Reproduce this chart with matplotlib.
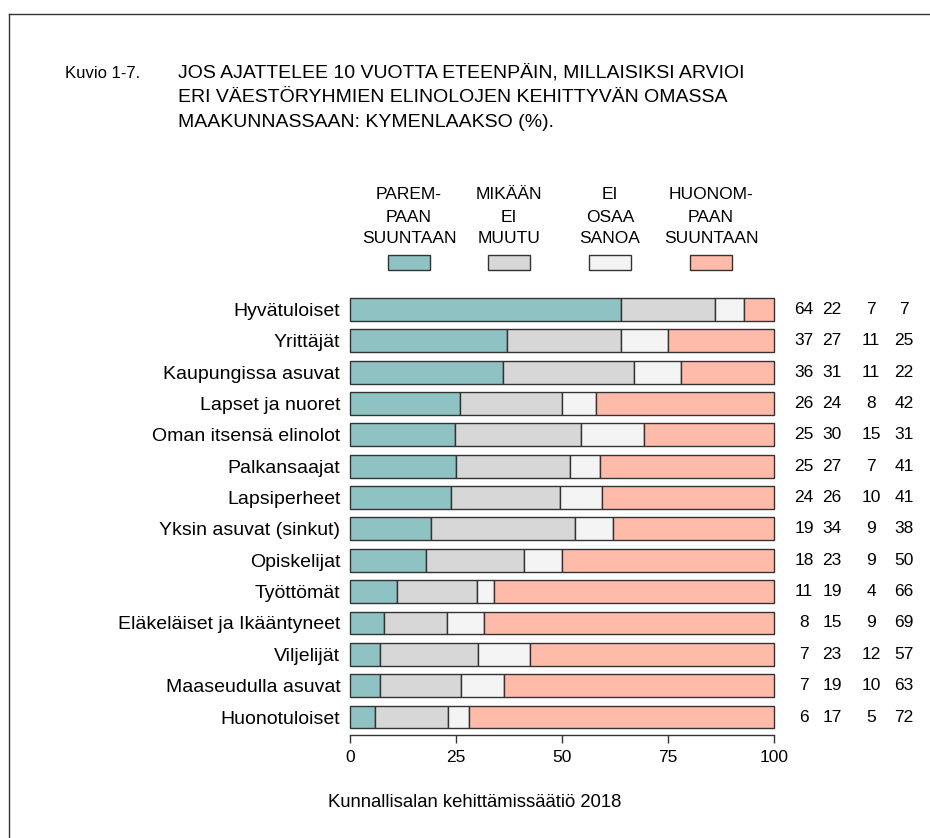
import matplotlib
matplotlib.use("Agg")
import matplotlib.pyplot as plt
from matplotlib.patches import Rectangle
from matplotlib.lines import Line2D
import matplotlib.transforms as mtransforms
import numpy as np

plt.rcParams['font.family'] = ['Liberation Sans', 'DejaVu Sans']

W, H = 930, 838

categories = ["Hyvätuloiset", "Yrittäjät", "Kaupungissa asuvat", "Lapset ja nuoret",
              "Oman itsensä elinolot", "Palkansaajat", "Lapsiperheet",
              "Yksin asuvat (sinkut)", "Opiskelijat", "Työttömät",
              "Eläkeläiset ja Ikääntyneet", "Viljelijät", "Maaseudulla asuvat", "Huonotuloiset"]
paremmin = [64, 37, 36, 26, 25, 25, 24, 19, 18, 11, 8, 7, 7, 6]
ei_muutu = [22, 27, 31, 24, 30, 27, 26, 34, 23, 19, 15, 23, 19, 17]
eos = [7, 11, 11, 8, 15, 7, 10, 9, 9, 4, 9, 12, 10, 5]
huonommin = [7, 25, 22, 42, 31, 41, 41, 38, 50, 66, 69, 57, 63, 72]
series_labels = ["PAREM-\nPAAN\nSUUNTAAN", "MIKÄÄN\nEI\nMUUTU", "EI\nOSAA\nSANOA", "HUONOM-\nPAAN\nSUUNTAAN"]
colors = ["#8FC2C2", "#D7D7D7", "#F4F4F4", "#FFBBAA"]
xticks = [0, 25, 50, 75, 100]

title_prefix = "Kuvio 1-7."
title_lines = ["JOS AJATTELEE 10 VUOTTA ETEENPÄIN, MILLAISIKSI ARVIOI",
               "ERI VÄESTÖRYHMIEN ELINOLOJEN KEHITTYVÄN OMASSA",
               "MAAKUNNASSAAN: KYMENLAAKSO (%)."]
footer = "Kunnallisalan kehittämissäätiö 2018"

fig = plt.figure(figsize=(W / 100, H / 100), dpi=100)

def fx(px):
    return px / W

def fy(py):
    return 1 - py / H

# frame (top and left visible)
fig.add_artist(Line2D([fx(9), fx(935)], [fy(14), fy(14)], color="#333333", lw=1.0))
fig.add_artist(Line2D([fx(9), fx(9)], [fy(14), fy(845)], color="#333333", lw=1.0))

# axes
x0, x1 = 350, 774
top, bottom = 293.8, 735
ax = fig.add_axes([fx(x0), fy(bottom), fx(x1) - fx(x0), (bottom - top) / H])
n = len(categories)
ax.set_xlim(0, 100)
ax.set_ylim(13.574, -0.5)

data = np.array([paremmin, ei_muutu, eos, huonommin], dtype=float)
totals = data.sum(axis=0)
norm = data / totals * 100
y = np.arange(n)
left = np.zeros(n)
for i in range(4):
    ax.barh(y, norm[i], left=left, height=0.73, color=colors[i],
            edgecolor="#333333", linewidth=1.0, clip_on=False)
    left += norm[i]

for s in ["top", "right", "left"]:
    ax.spines[s].set_visible(False)
ax.spines["bottom"].set_color("#333333")
ax.spines["bottom"].set_linewidth(1.0)
ax.set_xticks(xticks)
ax.set_xticklabels([str(t) for t in xticks], fontsize=12.5)
ax.tick_params(axis="x", direction="out", length=6, width=1.0, color="#333333", pad=5)
ax.set_yticks(y)
ax.set_yticklabels(categories, fontsize=14)
ax.tick_params(axis="y", length=0, pad=7)

# value columns
col_x = [804, 832, 871, 904]
tr = mtransforms.blended_transform_factory(fig.transFigure, ax.transData)
for j in range(n):
    for k in range(4):
        ax.text(fx(col_x[k]), y[j], str(int(data[k, j])), fontsize=12.5,
                ha="center", va="center", transform=tr)

# legend
leg_x = [409, 509, 610, 711]
line_y = [199, 222, 243]
for k in range(4):
    for li, line in enumerate(series_labels[k].split("\n")):
        fig.text(fx(leg_x[k]), fy(line_y[li]), line, fontsize=12.5, ha="center", va="baseline")
    fig.add_artist(Rectangle((fx(leg_x[k] - 21), fy(270)), 42 / W, 15 / H,
                             facecolor=colors[k], edgecolor="#333333", linewidth=1.0))

# title
fig.text(fx(65), fy(78), title_prefix, fontsize=12, va="baseline", ha="left")
for i, line in enumerate(title_lines):
    fig.text(fx(178), fy(78 + 24.5 * i), line, fontsize=14, va="baseline", ha="left")

fig.text(fx(475), fy(807), footer, fontsize=13.3, ha="center", va="baseline")

fig.savefig("out.png", dpi=100)
